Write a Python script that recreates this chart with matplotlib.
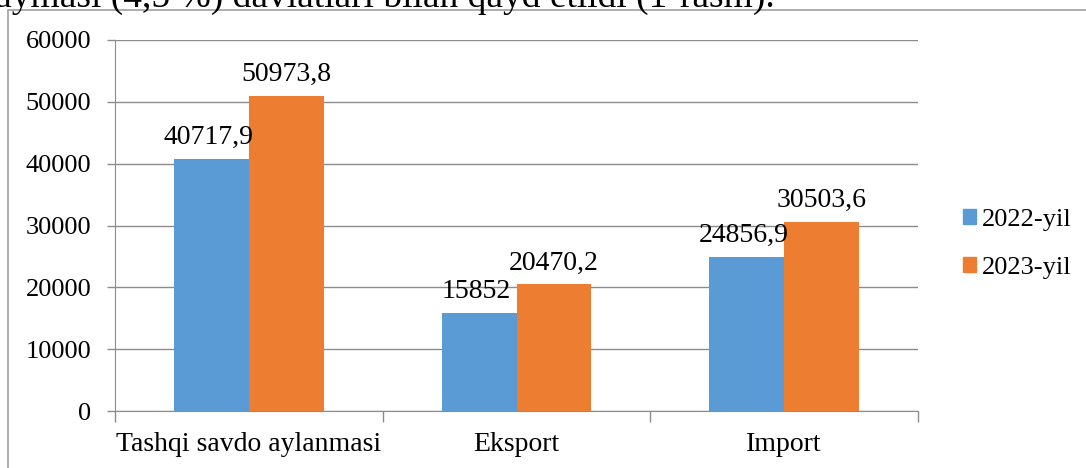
import matplotlib
matplotlib.use("Agg")
import matplotlib.pyplot as plt
from matplotlib.patches import Rectangle, Patch

categories = ["Tashqi savdo aylanmasi", "Eksport", "Import"]
series_names = ["2022-yil", "2023-yil"]
values_2022 = [40717.9, 15852, 24856.9]
values_2023 = [50973.8, 20470.2, 30503.6]
labels_2022 = ["40717,9", "15852", "24856,9"]
labels_2023 = ["50973,8", "20470,2", "30503,6"]
yticks = [0, 10000, 20000, 30000, 40000, 50000, 60000]

colors = ["#5B9BD5", "#ED7D31"]
grid_c = "#8C8C8C"

plt.rcParams['font.family'] = ['Liberation Serif', 'DejaVu Serif']
FS = 20
FS_T = 19

fig = plt.figure(figsize=(10.86, 4.68), dpi=100)
ax = fig.add_axes([115/1086, 57/468, (918-115)/1086, (411-40)/468])

w = 0.28
xs = list(range(len(categories)))
b1 = ax.bar([x - w/2 for x in xs], values_2022, width=w, color=colors[0], zorder=3)
b2 = ax.bar([x + w/2 for x in xs], values_2023, width=w, color=colors[1], zorder=3)
for rect, lab in zip(b1, labels_2022):
    ax.annotate(lab, (rect.get_x() + rect.get_width()/2, rect.get_height()),
                xytext=(-3, 9), textcoords='offset pixels', ha='center', va='bottom', fontsize=FS)
for rect, lab in zip(b2, labels_2023):
    ax.annotate(lab, (rect.get_x() + rect.get_width()/2, rect.get_height()),
                xytext=(0, 9), textcoords='offset pixels', ha='center', va='bottom', fontsize=FS)

ax.set_xlim(-0.5, len(categories) - 0.5)
ax.set_ylim(0, 60000)
ax.set_yticks(yticks)
ax.set_yticklabels([str(v) for v in yticks], fontsize=FS_T)
ax.yaxis.grid(True, color=grid_c, linewidth=1)
ax.set_axisbelow(True)
ax.tick_params(axis='y', length=6, color=grid_c, width=1, pad=11)

ax.set_xticks(xs)
ax.set_xticklabels(categories, fontsize=FS)
ax.tick_params(axis='x', which='major', length=0, pad=15)
ax.set_xticks([x + 0.5 for x in [-1] + xs], minor=True)
ax.tick_params(axis='x', which='minor', length=8, color=grid_c, width=1)

for s in ['top', 'right']:
    ax.spines[s].set_visible(False)
for s in ['left', 'bottom']:
    ax.spines[s].set_color(grid_c)

handles = [Patch(color=c) for c in colors]
fig.legend(handles, series_names, loc='center left', bbox_to_anchor=(952/1086, (468-244)/468),
           frameon=False, fontsize=FS_T, handlelength=0.5, handleheight=0.5, handletextpad=0.25,
           labelspacing=1.0, borderaxespad=0)

fig.patches.append(Rectangle((8/1086, -0.1), 1.2, (468-10)/468 + 0.1, transform=fig.transFigure,
                             fill=False, edgecolor="#A0A0A0", linewidth=1.2))

fig.text(775/1086, (468-7)/468, "o'sishi kamaymasi (4,5 %) davlatlari bilan qayd etildi (1-rasm).",
         ha='right', va='baseline', fontsize=27)

fig.savefig("out.png", dpi=100)
